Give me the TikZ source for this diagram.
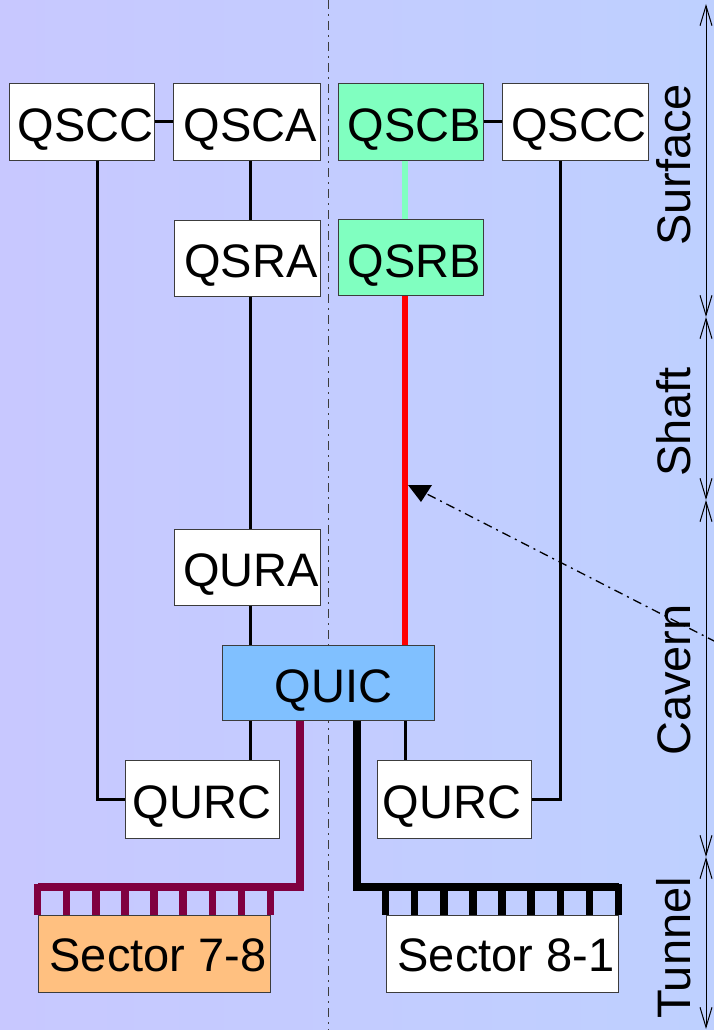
\documentclass[tikz,border=0pt]{standalone}
\usepackage{fontspec}
\setmainfont{Liberation Sans}
\usetikzlibrary{calc,arrows.meta}
\definecolor{bgleft}{RGB}{200,200,255}
\definecolor{bgright}{RGB}{190,208,255}
\definecolor{qgreen}{RGB}{128,255,192}
\definecolor{qblue}{RGB}{128,192,255}
\definecolor{qorange}{RGB}{255,192,128}
\definecolor{qmaroon}{RGB}{128,0,64}
\definecolor{qborder}{RGB}{60,60,60}
\tikzset{
  box/.style={draw=qborder, line width=1pt, fill=white, inner sep=0pt,
    minimum width=145pt, minimum height=76pt, text height=39pt, text depth=0pt,
    font=\fontsize{47}{56}\selectfont, execute at begin node={\hspace*{8pt}}},
  conn/.style={line width=3pt, black},
  comb/.style={line width=7.5pt},
  seclabel/.style={rotate=90, inner sep=0pt, text height=34pt, text depth=0pt,
    font=\fontsize{47}{56}\selectfont},
  axis/.style={line width=1pt, {Straight Barb[length=20pt,width=12pt]}-{Straight Barb[length=20pt,width=12pt]}},
  dashdot/.style={dash pattern=on 9pt off 5pt on 2pt off 5pt}
}
\begin{document}
\begin{tikzpicture}[x=1pt,y=-1pt]
\useasboundingbox (0,0) rectangle (714,1030);
\shade[left color=bgleft, right color=bgright] (0,0) rectangle (714,1030);

% centre line
\coordinate (ctop) at (328,0);
\coordinate (cbot) at (328,1030);
\draw[qborder, line width=1pt, dashdot] (ctop) -- (cbot);

% column coordinates
\coordinate (colC1) at (97,0);
\coordinate (colA) at (250.5,0);
\coordinate (colM) at (300,0);
\coordinate (colK) at (357,0);
\coordinate (colB) at (405,0);
\coordinate (colC2) at (560,0);

% nodes
\node[box] (QSCC1) at (81.5,122) {QSCC};
\node[box, minimum width=147pt] (QSCA) at (246.5,122) {QSCA};
\node[box, fill=qgreen] (QSCB) at (410.5,122) {QSCB};
\node[box, minimum width=146pt] (QSCC2) at (575,122) {QSCC};
\node[box, minimum width=146pt] (QSRA) at (247,258) {QSRA};
\node[box, fill=qgreen] (QSRB) at (410.5,257.5) {QSRB};
\node[box, minimum width=146pt] (QURA) at (247,567) {QURA};
\node[box, fill=qblue, minimum width=212pt, minimum height=75pt] (QUIC) at (328,682.5) {\hspace*{3pt}QUIC};
\node[box, minimum width=154pt, minimum height=78pt] (QURC1) at (202,799) {\hspace*{-8pt}QURC};
\node[box, minimum width=154pt, minimum height=78pt] (QURC2) at (454,799) {\hspace*{-12pt}QURC};
\node[box, fill=qorange, minimum width=232pt, minimum height=77pt, text height=34pt] (S78) at (154,954) {Sector 7-8};
\node[box, minimum width=232pt, minimum height=77pt, text height=34pt] (S81) at (502,954) {Sector 8-1};

% top links
\draw[conn] (QSCC1.east) -- (QSCA.west);
\draw[conn] (QSCB.east) -- (QSCC2.west);

% column A
\draw[conn] (QSCA.south -| colA) -- (QSRA.north -| colA);
\draw[conn] (QSRA.south -| colA) -- (QURA.north -| colA);
\draw[conn] (QURA.south -| colA) -- (QUIC.north -| colA);
\draw[conn] (QUIC.south -| colA) -- (QURC1.north -| colA);

% column B
\draw[qgreen, line width=5.3pt] (QSCB.south -| colB) -- (QSRB.north -| colB);
\draw[red, line width=5.3pt] (QSRB.south -| colB) -- (QUIC.north -| colB);
\draw[conn] (QUIC.south -| colB) -- (QURC2.north -| colB);

% outer columns
\draw[conn] (QSCC1.south -| colC1) |- (QURC1.west);
\draw[conn] (QSCC2.south -| colC2) |- (QURC2.east);

% combs
\coordinate (bar78) at ($(S78.north west)+(0,-28)$);
\coordinate (bar81) at ($(S81.north east)+(0,-28)$);
\draw[comb, qmaroon] (QUIC.south -| colM) |- (bar78);
\draw[comb, black] (QUIC.south -| colK) |- (bar81);
\foreach \t in {0,1,...,8}{
  \draw[comb, qmaroon] ($(S78.north west)!\t/8!(S78.north east)+(0,-31)$) -- ($(S78.north west)!\t/8!(S78.north east)$);
  \draw[comb, black] ($(S81.north west)!\t/8!(S81.north east)+(0,-31)$) -- ($(S81.north west)!\t/8!(S81.north east)$);
}

% pointer arrow
\coordinate (pstart) at (716,642);
\coordinate (pend) at (427,494);
\draw[line width=1.3pt, dashdot] (pstart) -- (pend);
\fill (408,485) -- (432,485) -- (421,502) -- cycle;

% section axis
\coordinate (a0) at (706,4);
\coordinate (a1) at (706,317);
\coordinate (a2) at (706,500);
\coordinate (a3) at (706,857);
\coordinate (a4) at (706,1029);
\draw[axis] (a0) -- (a1);
\draw[axis] (a1) -- (a2);
\draw[axis] (a2) -- (a3);
\draw[axis] (a3) -- (a4);

\node[seclabel] (lSurface) at (673.5,165) {Surface};
\node[seclabel] (lShaft) at (673.5,422) {Shaft};
\node[seclabel] (lCavern) at (673.5,680) {Cavern};
\node[seclabel] (lTunnel) at (673.5,948) {Tunnel};
\end{tikzpicture}
\end{document}
